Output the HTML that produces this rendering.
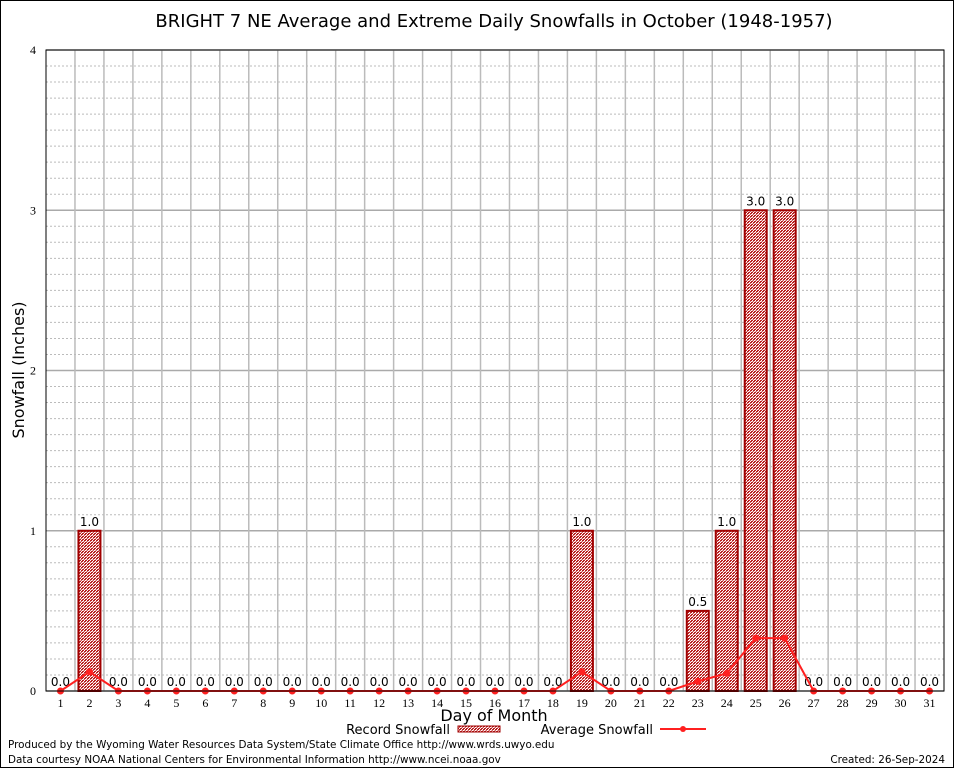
<!DOCTYPE html>
<html><head><meta charset="utf-8"><style>
body{margin:0;background:#fff;font-family:"DejaVu Sans","Liberation Sans",sans-serif}
svg{display:block}
</style></head><body>
<svg id="chart" width="954" height="768" xmlns="http://www.w3.org/2000/svg">
<defs>
<pattern id="chk" width="3" height="3" patternUnits="userSpaceOnUse">
<rect width="3" height="3" fill="#fff"/>
<rect width="2" height="1" fill="#b82020"/><rect x="1" y="2" width="2" height="1" fill="#b82020"/><rect y="1" width="1" height="1" fill="#d06060"/><rect x="2" y="1" width="1" height="1" fill="#e8a0a0"/>
</pattern>
</defs>
<rect x="0.5" y="0.5" width="953" height="767" fill="#fff" stroke="#000"/>
<text x="494" y="27" font-size="18" text-anchor="middle">BRIGHT 7 NE Average and Extreme Daily Snowfalls in October (1948-1957)</text>
<g id="grid"></g>
<g id="bars"></g>
<g id="line"></g>
<rect x="46" y="50" width="898" height="641" fill="none" stroke="#000"/>
<g id="axes" font-family="Liberation Serif, serif" font-size="12"></g>
<text transform="translate(24,370) rotate(-90)" font-size="16" text-anchor="middle">Snowfall (Inches)</text>
<text x="494" y="721" font-size="16" text-anchor="middle">Day of Month</text>
<g font-size="13">
<text x="450" y="734" text-anchor="end">Record Snowfall</text>
<rect x="458" y="726" width="42" height="6" fill="url(#chk)" stroke="#a00000"/>
<text x="653" y="734" text-anchor="end">Average Snowfall</text>
<line x1="660" y1="729" x2="706" y2="729" stroke="#ff2020" stroke-width="2"/>
<circle cx="683" cy="729" r="3" fill="#ff2020"/>
</g>
<text x="8" y="748" font-size="10.4">Produced by the Wyoming Water Resources Data System/State Climate Office http://www.wrds.uwyo.edu</text>
<text x="8" y="763" font-size="10.4">Data courtesy NOAA National Centers for Environmental Information http://www.ncei.noaa.gov</text>
<text x="945" y="763" font-size="10.4" text-anchor="end">Created:  26-Sep-2024</text>
</svg>
<script>
const days=[1,2,3,4,5,6,7,8,9,10,11,12,13,14,15,16,17,18,19,20,21,22,23,24,25,26,27,28,29,30,31];
const record=[0,1,0,0,0,0,0,0,0,0,0,0,0,0,0,0,0,0,1,0,0,0,0.5,1,3,3,0,0,0,0,0];
const average=[0,0.12,0,0,0,0,0,0,0,0,0,0,0,0,0,0,0,0,0.12,0,0,0,0.06,0.11,0.33,0.33,0,0,0,0,0];
const yTicks=[0,1,2,3,4];
const NS="http://www.w3.org/2000/svg";
const L=46,R=944,T=50,B=691,yMax=4;
const bw=(R-L)/days.length;
const xS=d=>L+(d-0.5)*bw;
const yS=v=>B-v/yMax*(B-T);
function mk(p,t,a){const e=document.createElementNS(NS,t);for(const k in a)e.setAttribute(k,a[k]);p.appendChild(e);return e;}
const grid=document.getElementById('grid'),bars=document.getElementById('bars'),line=document.getElementById('line'),axes=document.getElementById('axes');
for(let i=1;i<yMax*10;i++){if(i%10===0)continue;const y=yS(i/10);
const g=mk(grid,'line',{x1:L,x2:R,y1:y,y2:y,stroke:'#bbb','stroke-dasharray':'2,2'});

}
yTicks.forEach(v=>{const y=yS(v);
const g=mk(grid,'line',{x1:L,x2:R,y1:y,y2:y,stroke:'#aaa','stroke-width':1.5});


const t=mk(axes,'text',{x:L-10,y:y+4,'text-anchor':'end'});t.textContent=v;

});
for(let i=1;i<days.length;i++){const x=L+i*bw;
const g=mk(grid,'line',{x1:x,x2:x,y1:T,y2:B,stroke:'#bbb','stroke-width':1.5});

}
days.forEach((d,i)=>{const x=xS(d);
const t=mk(axes,'text',{x:x,y:B+16,'text-anchor':'middle'});t.textContent=d;


const v=record[i];
if(v>0){const r=mk(bars,'rect',{x:x-11,y:yS(v),width:22,height:B-yS(v),fill:'url(#chk)',stroke:'#a00000','stroke-width':2});

}
const lb=mk(bars,'text',{x:x,y:yS(v)-5,'text-anchor':'middle','font-size':12,fill:'#000'});lb.textContent=v.toFixed(1);

});
const pts=days.map((d,i)=>xS(d)+','+yS(average[i])).join(' ');
const pl=mk(line,'polyline',{points:pts,fill:'none',stroke:'#ff2020','stroke-width':2});


days.forEach((d,i)=>{const c=mk(line,'circle',{cx:xS(d),cy:yS(average[i]),r:3.5,fill:'#ff2020'});

});
</script>
</body></html>
